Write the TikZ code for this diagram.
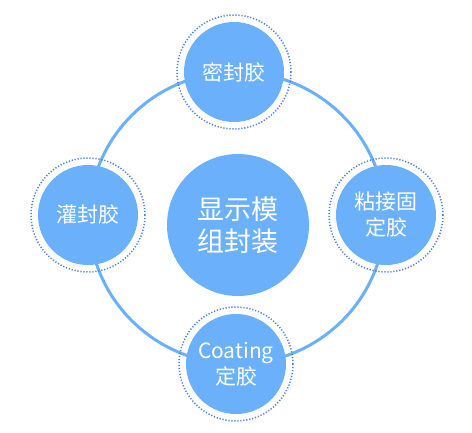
\documentclass[tikz,border=0pt]{standalone}
\usepackage{fontspec}
\setmainfont{Noto Sans CJK SC}
\definecolor{glueblue}{HTML}{6AB0FA}
\definecolor{dotblue}{HTML}{4A80E4}

\begin{document}
\begin{tikzpicture}[x=1pt, y=-1pt,
    glue/.style={circle, fill=glueblue, minimum size=100pt, inner sep=0pt, align=center, text=white, font=\fontsize{21}{26}\selectfont},
    hub/.style={glue, minimum size=142pt, font=\fontsize{27}{32}\selectfont},
    ring/.style={draw=glueblue, line width=3pt},
    dotring/.style={draw=dotblue, line width=1.5pt, dash pattern=on 1.2pt off 1.8pt}
]
\useasboundingbox (0,0) rectangle (472,432);
\coordinate (c) at (237,218);
\draw[ring] (c) ellipse[x radius=148, y radius=146];

\node[glue] (mifeng) at (234,72) {密封胶};
\node[glue] (guanfeng) at (88,215) {灌封胶};
\node[glue] (zhanjie) at (386,215) {粘接固\\定胶};
\node[glue] (coating) at (236,364) {Coating\\定胶};
\node[hub] (hub) at (238,225) {显示模\\组封装};

\foreach \n in {mifeng,guanfeng,zhanjie,coating}
  \draw[dotring] (\n) circle[radius=57];
\end{tikzpicture}
\end{document}
